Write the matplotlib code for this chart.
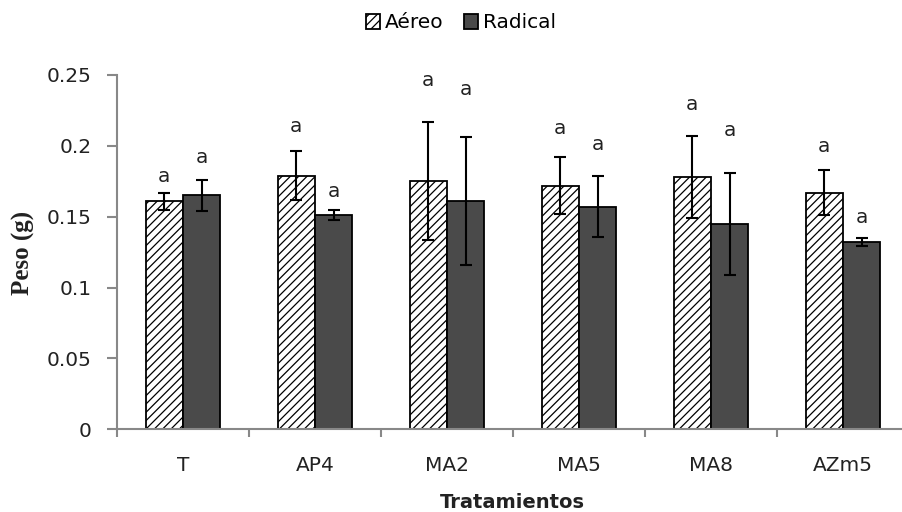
import matplotlib
matplotlib.use("Agg")
import matplotlib.pyplot as plt
import numpy as np
from matplotlib.patches import Patch
from matplotlib.ticker import FixedLocator

categories = ["T", "AP4", "MA2", "MA5", "MA8", "AZm5"]
aereo = [0.161, 0.179, 0.175, 0.172, 0.178, 0.167]
aereo_err = [0.006, 0.0175, 0.0415, 0.020, 0.029, 0.016]
radical = [0.165, 0.151, 0.161, 0.157, 0.145, 0.132]
radical_err = [0.011, 0.0035, 0.045, 0.0215, 0.036, 0.003]
letters_aereo = ["a", "a", "a", "a", "a", "a"]
letters_radical = ["a", "a", "a", "a", "a", "a"]
letter_y_aereo = [0.1744, 0.2097, 0.2419, 0.2083, 0.225, 0.196]
letter_y_radical = [0.1876, 0.1638, 0.2361, 0.1972, 0.2068, 0.1457]
yticks = [0, 0.05, 0.1, 0.15, 0.2, 0.25]
yticklabels = ["0", "0.05", "0.1", "0.15", "0.2", "0.25"]

W, H = 902, 512
fig = plt.figure(figsize=(W / 100, H / 100), dpi=100)
ax = fig.add_axes([117 / W, 1 - 429.3 / H, 792 / W, 354.3 / H])

x = np.arange(len(categories))
w = 0.284
plt.rcParams['hatch.linewidth'] = 0.9
dark = "#4a4a4a"
ax.bar(x - w / 2, aereo, w, color="white", edgecolor="black", hatch="////",
       linewidth=1.3, zorder=2)
ax.bar(x + w / 2, radical, w, color=dark, edgecolor="black",
       linewidth=1.3, zorder=2)
ax.errorbar(x - w / 2, aereo, yerr=aereo_err, fmt="none", ecolor="black",
            elinewidth=1.5, capsize=4.5, capthick=1.5, zorder=3)
ax.errorbar(x + w / 2, radical, yerr=radical_err, fmt="none", ecolor="black",
            elinewidth=1.5, capsize=4.5, capthick=1.5, zorder=3)

for i in range(len(categories)):
    ax.text(x[i] - w / 2, letter_y_aereo[i], letters_aereo[i], ha="center",
            va="baseline", fontsize=14.5, color="#222222")
    ax.text(x[i] + w / 2, letter_y_radical[i], letters_radical[i], ha="center",
            va="baseline", fontsize=14.5, color="#222222")

ax.set_xlim(-0.5, len(categories) - 0.5)
ax.set_ylim(0, 0.25)
ax.set_yticks(yticks)
ax.set_yticklabels(yticklabels, fontsize=14.5, color="#222222")
ax.xaxis.set_major_locator(FixedLocator(np.arange(-0.5, len(categories), 1.0)))
ax.set_xticklabels([])
ax.xaxis.set_minor_locator(FixedLocator(x))
ax.set_xticks(x, minor=True)
ax.set_xticklabels(categories, minor=True, fontsize=14.5, color="#222222")
ax.tick_params(axis="x", which="minor", length=0, pad=19)
ax.tick_params(axis="x", which="major", length=6, width=1.5, color="#888888")
ax.tick_params(axis="y", length=7, width=1.5, color="#888888", pad=11)
for s in ["top", "right"]:
    ax.spines[s].set_visible(False)
for s in ["left", "bottom"]:
    ax.spines[s].set_color("#888888")
    ax.spines[s].set_linewidth(1.5)

fig.text(23 / W, 1 - 253 / H, "Peso (g)", rotation=90, ha="center", va="center",
         fontsize=18, fontweight="bold", family="Liberation Serif", color="#222222")
fig.text(512.5 / W, 1 - 503 / H, "Tratamientos", ha="center", va="center",
         fontsize=14, fontweight="bold", color="#222222")

handles = [Patch(facecolor="white", edgecolor="black", hatch="////", linewidth=1.3),
           Patch(facecolor=dark, edgecolor="black", linewidth=1.3)]
fig.legend(handles, ["Aéreo", "Radical"], loc="center", ncol=2,
           bbox_to_anchor=(461 / W, 1 - 23 / H), frameon=False, fontsize=14.5,
           handlelength=0.7, handleheight=0.8, handletextpad=0.25,
           columnspacing=1.0, borderpad=0)

fig.savefig("out.png", dpi=100)
